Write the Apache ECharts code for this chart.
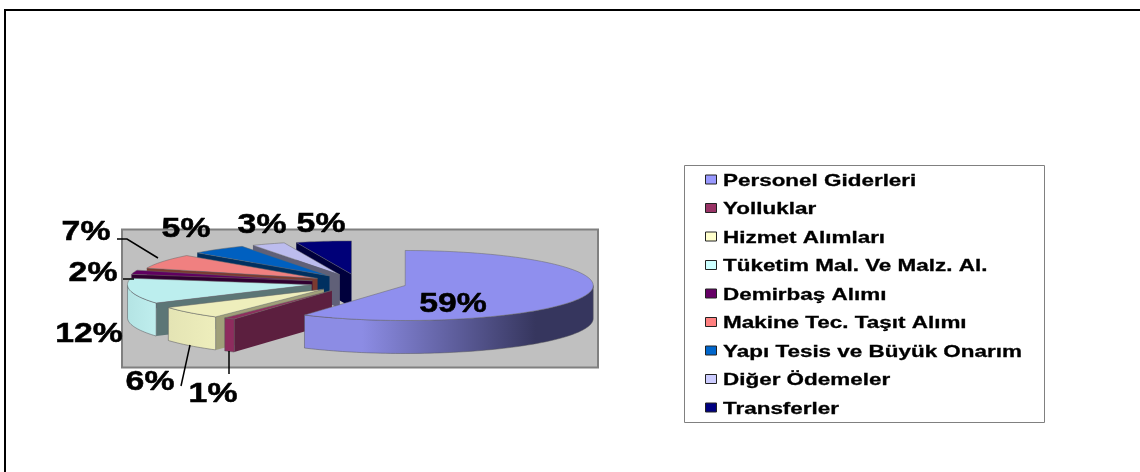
<!DOCTYPE html>
<html>
<head>
<meta charset="utf-8">
<style>
html, body { margin: 0; padding: 0; background: #fff; }
#chart { width: 1140px; height: 472px; filter: blur(0.45px); }
</style>
<script src="https://cdn.jsdelivr.net/npm/echarts@6/dist/echarts.min.js"></script>
</head>
<body>
<div id="chart"></div>
<script>
const categories = ['Personel Giderleri', 'Yolluklar', 'Hizmet Alımları', 'Tüketim Mal. Ve Malz. Al.', 'Demirbaş Alımı', 'Makine Tec. Taşıt Alımı', 'Yapı Tesis ve Büyük Onarım', 'Diğer Ödemeler', 'Transferler']
const values = [59, 1, 6, 12, 2, 7, 5, 3, 5]

const legendColor = ['#9999ff', '#993366', '#ffffcc', '#ccffff', '#660066', '#ff8080', '#0066cc', '#ccccff', '#000080']
const topColor = ['#8f8fee', '#8e2f5e', '#eeeebc', '#bceeee', '#600060', '#f08080', '#0060c0', '#bcbcee', '#000078']
const wallColor = [['#8c8ce4', '#36365e'], ['#8e2c5e', '#8e2c5e'], ['#e4e4b4', '#eeeebc'], ['#b4e4e4', '#bfeeee'], ['#500050', '#500050'], ['#a05050', '#a05050'], ['#004a90', '#004a90'], ['#9090b0', '#9090b0'], ['#000050', '#000050']]
const faceColor = ['#5c5ca0', '#5c1f3f', '#a0a07a', '#5c7676', '#300030', '#7a3a30', '#003060', '#606078', '#00003c']

// pie geometry, far slices are a little smaller because of the perspective
const cx = 359, cy = 283, rx = 188, ry = 35, depth = 33, explode = 0.256
const radiusScale = [1, 0.97, 0.98, 0.98, 0.98, 0.955, 0.965, 0.96, 0.95]
const total = values.reduce((a, b) => a + b, 0)

// label placement, same order as categories
const labelPos = [[453, 305], [213, 395], [150, 383], [89, 335], [93, 274], [86, 233], [186, 230], [262, 226], [321, 225]]
const leaders = [
    [[117, 239], [127, 239], [158, 258]],
    [[123, 279], [134, 279]],
    [[181, 386], [190, 345]],
    [[229, 374], [229, 351]],
]

function pt(ox, oy, deg, s, dy) {
    let a = deg * Math.PI / 180
    return [ox + Math.sin(a) * rx * s, oy - Math.cos(a) * ry * s + (dy || 0)]
}

function renderSlice(params, api) {
    let i = params.dataIndex
    let s = radiusScale[i]
    let before = 0
    for (let k = 0; k < i; k++) before += values[k]
    let a0 = before / total * 360
    let a1 = (before + api.value(0)) / total * 360
    let mid = (a0 + a1) / 2 * Math.PI / 180
    let ox = cx + Math.sin(mid) * rx * explode
    let oy = cy - Math.cos(mid) * ry * explode

    let arc = []
    for (let d = a0; d < a1; d += 1.5) arc.push(d)
    arc.push(a1)

    let base = (10 - i) * 10
    let children = []

    // radial face at the start of the slice, left half only
    if (a0 > 180) {
        let p = pt(ox, oy, a0, s)
        children.push({
            type: 'polygon', z2: base + 1,
            shape: { points: [[ox, oy], p, [p[0], p[1] + depth], [ox, oy + depth]] },
            style: { fill: faceColor[i] },
        })
    }

    // outer wall, only the part that faces the viewer
    let front = arc.filter(d => d >= 90 && d <= 270)
    if (a0 < 90 && a1 > 90) front.unshift(90)
    if (front.length > 1) {
        let up = front.map(d => pt(ox, oy, d, s))
        let down = front.map(d => pt(ox, oy, d, s, depth)).reverse()
        children.push({
            type: 'polygon', z2: base + 2,
            shape: { points: up.concat(down) },
            style: {
                fill: new echarts.graphic.LinearGradient(0, 0, 1, 0, [
                    { offset: 0, color: wallColor[i][0] },
                    { offset: i == 0 ? 0.2 : 0.01, color: wallColor[i][0] },
                    { offset: i == 0 ? 0.8 : 1, color: wallColor[i][1] },
                    { offset: 1, color: wallColor[i][1] },
                ]),
                stroke: '#55555a', lineWidth: 0.5,
            },
        })
    }

    children.push({
        type: 'polygon', z2: base + 3,
        shape: { points: [[ox, oy]].concat(arc.map(d => pt(ox, oy, d, s))) },
        style: { fill: topColor[i], stroke: '#666', lineWidth: 0.5 },
    })
    return { type: 'group', children: children }
}

function renderLabel(params, api) {
    let i = params.dataIndex
    return {
        type: 'text',
        x: labelPos[i][0], y: labelPos[i][1],
        scaleX: 1.25,
        style: {
            text: api.value(0) + '%',
            font: 'bold 27px "Liberation Sans", Arial, sans-serif',
            fill: '#000', stroke: '#000', lineWidth: 0.5, align: 'center', verticalAlign: 'middle',
        },
    }
}

let graphics = [
    // frame
    { type: 'line', shape: { x1: 4, y1: 10, x2: 1140, y2: 10 }, style: { stroke: '#000', lineWidth: 2 } },
    { type: 'line', shape: { x1: 5, y1: 9, x2: 5, y2: 472 }, style: { stroke: '#000', lineWidth: 2 } },
    // plot panel
    { type: 'rect', z: 0, shape: { x: 122, y: 229.5, width: 476, height: 138 }, style: { fill: '#c0c0c0', stroke: '#808080', lineWidth: 2 } },
    // legend box
    { type: 'rect', shape: { x: 684.5, y: 165.5, width: 360, height: 257 }, style: { fill: '#fff', stroke: '#808080', lineWidth: 1 } },
]
categories.forEach((name, i) => {
    let y = 180 + i * 28.5
    graphics.push({ type: 'rect', shape: { x: 705.5, y: y - 5, width: 11, height: 9 }, style: { fill: legendColor[i], stroke: '#222', lineWidth: 1 } })
    graphics.push({
        type: 'text', x: 723, y: y + 1, scaleX: 1.32,
        style: { text: name, font: 'bold 17px "Liberation Sans", Arial, sans-serif', fill: '#000', stroke: '#000', lineWidth: 0.3, align: 'left', verticalAlign: 'middle' },
    })
})
leaders.forEach(points => {
    graphics.push({ type: 'polyline', z: 5, shape: { points: points }, style: { stroke: '#000', lineWidth: 1.5, fill: null } })
})

let chart = echarts.init(document.getElementById('chart'), null, { renderer: 'canvas' })
chart.setOption({
    animation: false,
    backgroundColor: '#fff',
    graphic: { elements: graphics },
    series: [{
        type: 'custom',
        coordinateSystem: 'none',
        z: 3,
        clip: false,
        renderItem: renderSlice,
        data: values.map((v, i) => ({ name: categories[i], value: [v] })),
    }, {
        type: 'custom',
        coordinateSystem: 'none',
        z: 6,
        renderItem: renderLabel,
        data: values.map((v, i) => ({ name: categories[i], value: [v] })),
    }],
})
</script>
</body>
</html>
